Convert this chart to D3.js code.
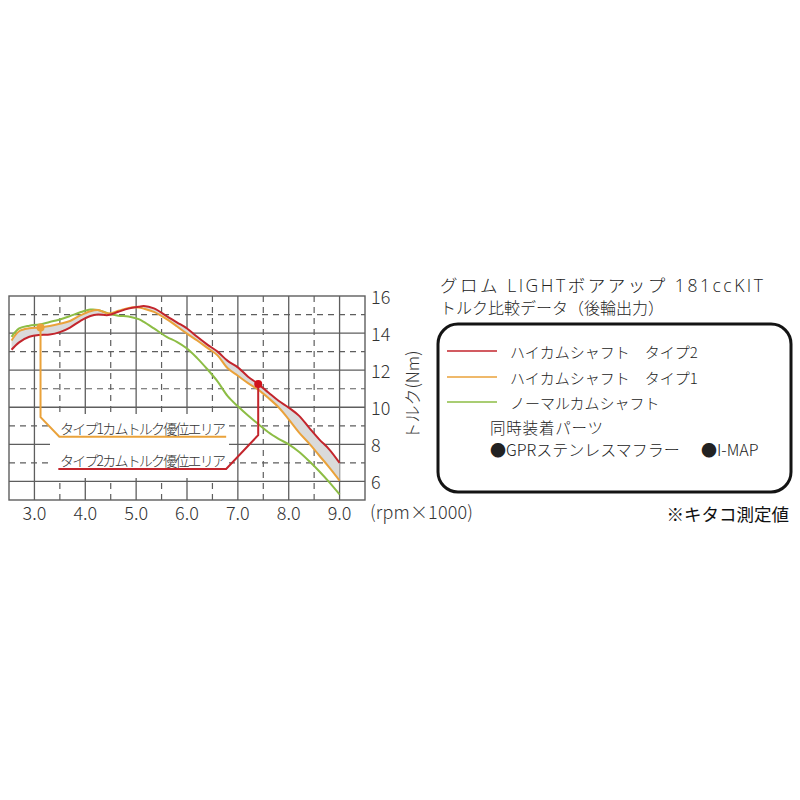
<!DOCTYPE html>
<html>
<head>
<meta charset="utf-8">
<script src="https://cdn.jsdelivr.net/npm/d3@7"></script>
<style>
  html, body { margin: 0; padding: 0; background: #fff; }
  svg text { font-family: "Noto Sans CJK JP", "Noto Sans", sans-serif; }
  svg text.latin { font-family: "Open Sans", "Noto Sans CJK JP", sans-serif; }
</style>
</head>
<body>
<svg id="chart" width="800" height="800"></svg>
<script>
// ---- data (rpm x1000, torque Nm) ----
const rpm    = [2.55, 2.7, 2.9, 3.1, 3.3, 3.5, 3.7, 3.9, 4.1, 4.25, 4.45, 4.65, 4.85, 5.05, 5.15, 5.35, 5.6, 5.8, 6.0, 6.2, 6.4, 6.6, 6.8, 7.0, 7.2, 7.4, 7.6, 7.8, 8.0, 8.2, 8.4, 8.6, 8.8, 9.0];
const type2  = [13.1, 13.5, 13.8, 13.9, 13.92, 14.05, 14.3, 14.65, 14.92, 15.0, 14.97, 15.15, 15.32, 15.42, 15.46, 15.33, 14.92, 14.58, 14.25, 13.8, 13.38, 13.0, 12.5, 12.15, 11.65, 11.25, 10.8, 10.35, 9.98, 9.55, 8.9, 8.27, 7.72, 7.0];
const type1  = [13.6, 14.1, 14.26, 14.3, 14.38, 14.5, 14.65, 14.95, 15.18, 15.24, 15.06, 15.2, 15.36, 15.38, 15.32, 15.14, 14.75, 14.37, 13.97, 13.6, 13.2, 12.8, 12.1, 11.7, 11.3, 10.95, 10.5, 10.0, 9.35, 8.65, 8.05, 7.4, 6.75, 6.05];
const normal = [13.8, 14.25, 14.4, 14.46, 14.6, 14.73, 14.92, 15.12, 15.27, 15.25, 15.06, 14.94, 14.9, 14.75, 14.6, 14.25, 13.8, 13.53, 13.17, 12.65, 12.05, 11.4, 10.6, 10.05, 9.55, 9.1, 8.65, 8.3, 8.0, 7.6, 7.1, 6.55, 5.95, 5.3];

const xTicks = [3, 4, 5, 6, 7, 8, 9];
const xTickLabels = ["3.0", "4.0", "5.0", "6.0", "7.0", "8.0", "9.0"];
const yTicks = [6, 8, 10, 12, 14, 16];
const xHalf = [3.5, 4.5, 5.5, 6.5, 7.5, 8.5];
const yOdd = [7, 9, 11, 13, 15];

const seriesNames = ["ハイカムシャフト　タイプ2", "ハイカムシャフト　タイプ1", "ノーマルカムシャフト"];
const seriesColors = ["#c3252c", "#eaa23a", "#8dbd45"];

// callouts (data coordinates)
const callout1Path = [[3.12, 14.3], [3.12, 9.47], [3.49, 8.41], [6.77, 8.41]];
const callout2Path = [[7.4, 11.25], [7.4, 8.5], [6.77, 6.67], [3.47, 6.67]];
const callout1Label = "タイプ1カムトルク優位エリア";
const callout2Label = "タイプ2カムトルク優位エリア";

// ---- scales ----
const svg = d3.select("#chart");
const x = d3.scaleLinear().domain([2.5, 9.5]).range([9, 365]);
const y = d3.scaleLinear().domain([5, 16]).range([500, 296]);

const gridColor = "#5e5e5e";

// grid
const g = svg.append("g");
g.selectAll(".vs").data(xTicks).join("line")
  .attr("x1", d => x(d)).attr("x2", d => x(d))
  .attr("y1", y(16)).attr("y2", y(5))
  .attr("stroke", gridColor).attr("stroke-width", 1.3);
g.selectAll(".vd").data(xHalf).join("line")
  .attr("x1", d => x(d)).attr("x2", d => x(d))
  .attr("y1", y(16)).attr("y2", y(5))
  .attr("stroke", gridColor).attr("stroke-width", 1.2).attr("stroke-dasharray", "6,5");
g.selectAll(".hs").data(yTicks.filter(d => d < 16)).join("line")
  .attr("x1", x(2.5)).attr("x2", x(9.5))
  .attr("y1", d => y(d)).attr("y2", d => y(d))
  .attr("stroke", gridColor).attr("stroke-width", 1.3);
g.selectAll(".hd").data(yOdd).join("line")
  .attr("x1", x(2.5)).attr("x2", x(9.5))
  .attr("y1", d => y(d)).attr("y2", d => y(d))
  .attr("stroke", gridColor).attr("stroke-width", 1.2).attr("stroke-dasharray", "6,5");
g.append("rect")
  .attr("x", x(2.5)).attr("y", y(16))
  .attr("width", x(9.5) - x(2.5)).attr("height", y(5) - y(16))
  .attr("fill", "none").attr("stroke", gridColor).attr("stroke-width", 1.4);

// shaded area between type 2 and type 1
const pts = rpm.map((r, i) => ({ r, a: type2[i], b: type1[i], c: normal[i] }));
const curve = d3.curveCatmullRom.alpha(0.5);
svg.append("path").datum(pts)
  .attr("d", d3.area().x(d => x(d.r)).y0(d => y(d.a)).y1(d => y(d.b)).curve(curve))
  .attr("fill", "#dadada");

// white label box covering grid
svg.append("rect")
  .attr("x", 50).attr("y", 414).attr("width", 179).attr("height", 64)
  .attr("fill", "#fff");

// curves
const line = key => d3.line().x(d => x(d.r)).y(d => y(d[key])).curve(curve);
[["c", 2], ["b", 1], ["a", 0]].forEach(([k, i]) => {
  svg.append("path").datum(pts)
    .attr("d", line(k))
    .attr("fill", "none").attr("stroke", seriesColors[i]).attr("stroke-width", 2);
});

// callouts
const cl = d3.line().x(d => x(d[0])).y(d => y(d[1]));
svg.append("path").attr("d", cl(callout1Path)).attr("fill", "none")
  .attr("stroke", seriesColors[1]).attr("stroke-width", 2);
svg.append("circle").attr("cx", x(callout1Path[0][0])).attr("cy", y(callout1Path[0][1]))
  .attr("r", 4).attr("fill", seriesColors[1]);
svg.append("path").attr("d", cl(callout2Path)).attr("fill", "none")
  .attr("stroke", seriesColors[0]).attr("stroke-width", 2);
svg.append("circle").attr("cx", x(callout2Path[0][0])).attr("cy", y(callout2Path[0][1]))
  .attr("r", 4).attr("fill", "#d0121b");

svg.append("text").attr("x", 60).attr("y", 434)
  .attr("font-size", 14).attr("font-weight", 300).attr("fill", "#333")
  .attr("textLength", 166).text(callout1Label);
svg.append("text").attr("x", 60).attr("y", 466)
  .attr("font-size", 14).attr("font-weight", 300).attr("fill", "#333")
  .attr("textLength", 166).text(callout2Label);

// axis tick labels
svg.append("g").selectAll("text").data(xTicks).join("text")
  .attr("x", d => x(d)).attr("y", 520)
  .attr("text-anchor", "middle").attr("font-size", 18).attr("font-weight", 300)
  .attr("fill", "#333")
  .text((d, i) => xTickLabels[i]);
svg.append("text").attr("x", 370).attr("y", 519)
  .attr("font-size", 18).attr("font-weight", 300).attr("fill", "#333")
  .attr("textLength", 103)
  .text("(rpm×1000)");

svg.append("g").selectAll("text").data(yTicks).join("text")
  .attr("x", 371).attr("y", d => y(d))
  .attr("dominant-baseline", "central")
  .attr("font-size", 18).attr("font-weight", 300).attr("fill", "#333")
  .text(d => d);
svg.append("text")
  .attr("transform", "translate(411,395) rotate(-90)")
  .attr("text-anchor", "middle").attr("dominant-baseline", "central")
  .attr("font-size", 17).attr("font-weight", 300).attr("fill", "#333")
  .text("トルク(Nm)");

// title
svg.append("text").attr("class", "latin").attr("x", 440).attr("y", 292)
  .attr("font-size", 17.5).attr("font-weight", 300).attr("fill", "#222")
  .attr("textLength", 323)
  .text("グロム LIGHTボアアップ 181ccKIT");
svg.append("text").attr("x", 440).attr("y", 314)
  .attr("font-size", 16).attr("font-weight", 300).attr("fill", "#222")
  .text("トルク比較データ（後輪出力）");

// legend box
svg.append("rect").attr("x", 438).attr("y", 324).attr("width", 353).attr("height", 168)
  .attr("rx", 20).attr("ry", 20)
  .attr("fill", "#fff").attr("stroke", "#141414").attr("stroke-width", 3);

const legY = [351, 377, 402];
seriesNames.forEach((n, i) => {
  svg.append("line").attr("x1", 447).attr("x2", 497).attr("y1", legY[i]).attr("y2", legY[i])
    .attr("stroke", seriesColors[i]).attr("stroke-width", 1.6);
  svg.append("text").attr("x", 510).attr("y", legY[i])
    .attr("dominant-baseline", "central")
    .attr("font-size", 15).attr("font-weight", 300).attr("fill", "#222")
    .text(n);
});
svg.append("text").attr("x", 490).attr("y", 427).attr("dominant-baseline", "central")
  .attr("font-size", 15.5).attr("font-weight", 300).attr("fill", "#222")
  .attr("textLength", 113).text("同時装着パーツ");
svg.append("text").attr("x", 490).attr("y", 449).attr("dominant-baseline", "central")
  .attr("font-size", 16).attr("font-weight", 300).attr("fill", "#222").text("●GPRステンレスマフラー");
svg.append("text").attr("x", 701).attr("y", 449).attr("dominant-baseline", "central")
  .attr("font-size", 16).attr("font-weight", 300).attr("fill", "#222").text("●I-MAP");

svg.append("text").attr("x", 789).attr("y", 513).attr("dominant-baseline", "central")
  .attr("text-anchor", "end")
  .attr("font-size", 17.5).attr("font-weight", 400).attr("fill", "#111").text("※キタコ測定値");
</script>
</body>
</html>
